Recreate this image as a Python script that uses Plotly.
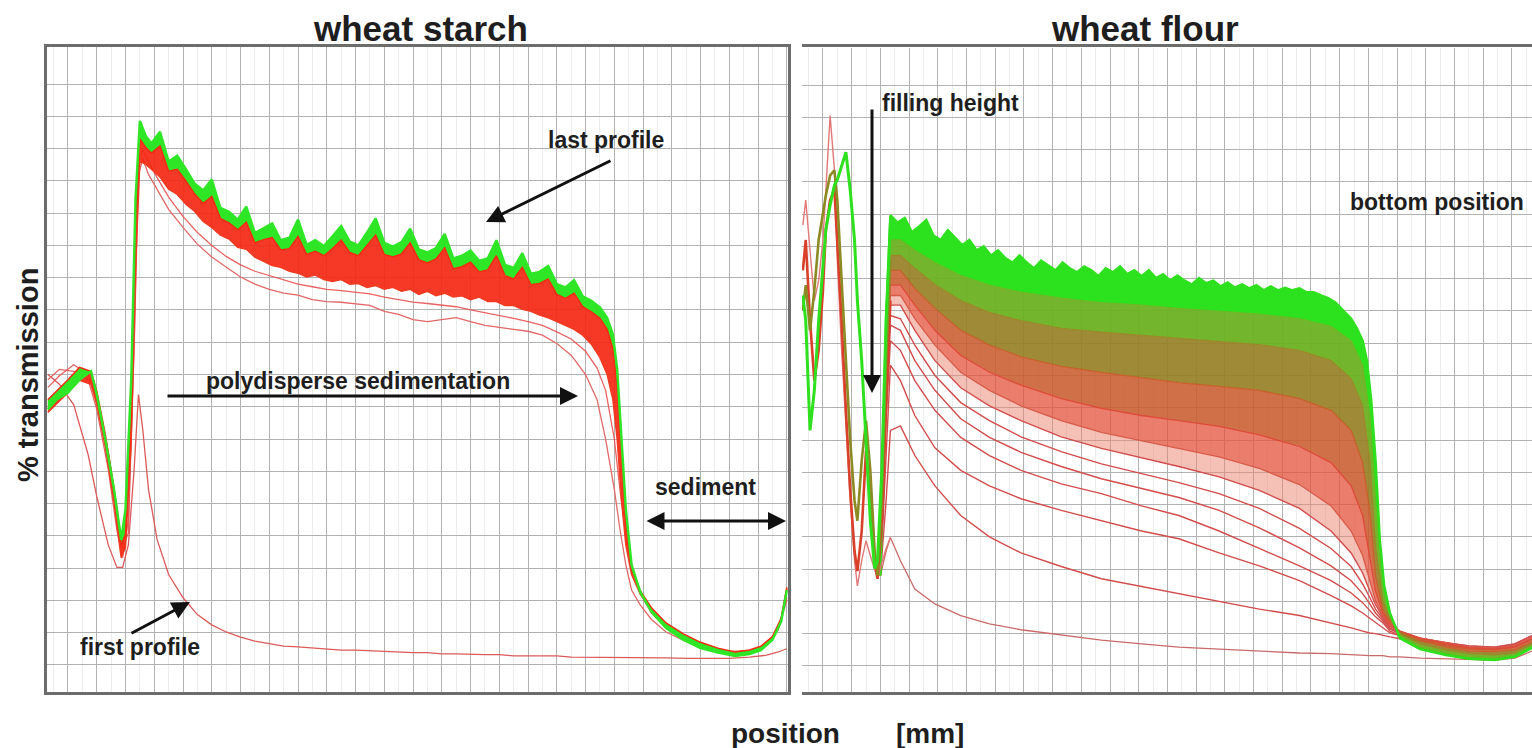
import plotly.graph_objects as go

# ================= wheat starch (left panel) =================
# position [mm] and % transmission
ws_x_band = [105.3, 105.6, 106.0, 106.4, 106.8, 107.0, 107.3, 107.6, 107.85, 108.0, 108.2, 108.35, 108.5, 108.7,
             108.9, 109.2, 109.5, 109.8, 110.1, 110.4, 110.7, 111.0, 111.3, 111.6, 111.9, 112.2, 112.5, 112.8,
             113.1, 113.4, 113.7, 114.0, 114.3, 114.6, 114.9, 115.2, 115.5, 115.8, 116.1, 116.4, 116.7, 117.0,
             117.3, 117.6, 117.9, 118.2, 118.5, 118.8, 119.1, 119.4, 119.7, 120.0, 120.3, 120.6, 120.9, 121.2,
             121.5, 121.8, 122.1, 122.4, 122.7, 123.0, 123.3, 123.6, 123.9, 124.2, 124.5,
             124.75, 124.95, 125.1, 125.25, 125.4, 125.6, 125.9, 126.3, 126.8, 127.4, 128.0, 128.6, 129.2,
             129.7, 130.1, 130.5, 130.8, 131.0]
ws_last = [39.6, 41.1, 42.2, 44.2, 45.5, 41.9, 34.9, 27.2, 19.4, 24.1, 44.2, 72.2, 84.3, 82.0,
           80.8, 82.6, 78.0, 78.9, 76.8, 74.6, 73.5, 75.2, 70.8, 70.2, 69.0, 71.0, 66.9, 67.6,
           68.4, 65.8, 66.2, 69.0, 65.1, 65.8, 64.9, 66.4, 68.0, 65.6, 65.0, 67.0, 69.2, 65.4,
           64.8, 65.5, 67.6, 64.4, 63.9, 64.6, 66.8, 63.0, 63.4, 64.2, 62.6, 63.0, 65.8, 62.0,
           61.5, 63.8, 60.6, 60.9, 61.8, 59.0, 58.5, 59.6, 57.1, 56.4, 55.4,
           53.8, 51.2, 45.8, 34.9, 24.1, 15.5, 11.3, 8.2, 5.7, 3.9, 2.6, 1.9, 1.4,
           1.7, 2.3, 3.9, 6.7, 11.6]
ws_red_top = [41.1, 42.4, 44.2, 46.1, 45.5, 42.4, 35.7, 27.2, 18.6, 20.2, 38.0, 67.5, 81.5, 80.2,
              79.3, 80.4, 76.5, 76.8, 75.0, 73.0, 71.5, 72.6, 69.2, 68.5, 67.4, 68.6, 65.4, 65.9,
              66.2, 64.3, 64.5, 66.4, 63.6, 64.1, 63.4, 64.5, 65.8, 63.9, 63.4, 65.0, 66.6, 63.6,
              63.2, 63.7, 65.4, 62.8, 62.3, 62.9, 64.6, 61.4, 61.7, 62.4, 60.9, 61.2, 63.4, 60.3,
              59.8, 61.6, 58.9, 59.1, 59.8, 57.4, 56.8, 57.6, 55.5, 54.7, 53.7,
              52.0, 49.0, 43.0, 32.5, 22.5, 15.0, 11.5, 8.8, 6.5, 4.8, 3.5, 2.6, 2.0,
              2.3, 2.9, 4.4, 7.2, 12.0]
ws_red_low = [39.1, 40.4, 42.2, 44.1, 43.5, 40.4, 33.7, 25.2, 16.6, 18.2, 35.0, 62.0, 78.0, 77.6,
              76.8, 75.6, 73.7, 72.9, 71.4, 70.3, 68.7, 67.8, 66.6, 66.0, 64.7, 64.4, 63.2, 62.5,
              61.9, 61.6, 61.0, 60.7, 60.1, 60.4, 59.7, 59.4, 59.7, 59.0, 59.1, 58.5, 58.8, 58.2,
              58.5, 57.9, 58.2, 57.4, 57.9, 57.2, 57.6, 57.0, 57.2, 56.6, 57.0, 56.3, 56.3, 55.7,
              55.7, 55.1, 54.8, 54.2, 53.8, 53.2, 52.6, 52.0, 51.1, 49.7, 47.6,
              45.0, 41.1, 34.9, 25.6, 18.6, 14.0, 11.0, 8.5, 6.2, 4.5, 3.2, 2.4, 1.8,
              2.1, 2.7, 4.2, 7.0, 11.8]

ws_x_thin = [105.3, 105.7, 106.2, 106.7, 107.0, 107.4, 107.7, 107.9, 108.1, 108.3, 108.45, 108.6, 108.8,
             109.1, 109.5, 110.0, 110.5, 111.0, 111.5, 112.0, 112.5, 113.0, 113.5, 114.0, 114.5, 115.0,
             115.5, 116.0, 116.5, 117.0, 117.5, 118.0, 118.5, 119.0, 119.5, 120.0, 120.5, 121.0, 121.5,
             122.0, 122.5, 123.0, 123.5, 124.0, 124.4, 124.7, 125.0, 125.2, 125.4, 125.6, 125.9, 126.3,
             126.8, 127.5, 128.2, 129.0, 129.7, 130.3, 130.7, 131.0]
ws_first = [45.0, 43.5, 40.3, 32.6, 26.1, 18.6, 15.1, 15.1, 18.6, 30.3, 41.9, 36.5, 27.2,
            19.4, 14.0, 10.4, 7.8, 6.2, 5.1, 4.3, 3.7, 3.3, 2.9, 2.8, 2.6, 2.5,
            2.3, 2.3, 2.2, 2.0, 2.0, 1.9, 1.9, 1.7, 1.7, 1.6, 1.6, 1.6, 1.4,
            1.4, 1.4, 1.4, 1.2, 1.2, 1.2, 1.2, 1.2, 1.2, 1.2, 1.1, 1.1, 1.1,
            1.1, 1.0, 1.0, 1.0, 1.2, 1.5, 2.0, 2.5]
ws_second = [44.2, 45.8, 45.5, 44.2, 39.6, 30.3, 20.9, 16.6, 22.5, 48.9, 76.0, 78.4, 76.0,
             73.7, 70.6, 67.8, 65.2, 63.2, 61.6, 60.1, 59.0, 58.2, 57.6, 57.3, 56.6, 56.3,
             56.2, 55.9, 55.7, 54.8, 54.3, 53.5, 53.2, 53.5, 53.8, 53.2, 52.6, 52.3, 52.0,
             51.7, 51.1, 49.8, 48.0, 45.0, 41.1, 34.9, 27.2, 20.9, 15.5, 11.6, 9.3, 7.0,
             5.1, 3.6, 2.6, 2.0, 2.0, 3.1, 5.4, 10.1]
ws_third = [43.0, 44.8, 46.5, 45.0, 41.0, 33.0, 24.5, 18.0, 20.5, 50.0, 78.0, 79.8, 78.0,
            75.5, 72.5, 69.5, 67.0, 65.0, 63.3, 62.0, 61.0, 60.3, 59.6, 59.0, 58.6, 58.2,
            58.0, 57.8, 57.5, 57.0, 56.6, 56.2, 56.0, 55.8, 55.5, 55.0, 54.6, 54.2, 53.7,
            53.2, 52.6, 51.6, 50.5, 48.6, 46.0, 42.5, 35.0, 27.0, 20.0, 15.0, 11.0, 8.0,
            5.8, 3.9, 2.8, 2.1, 2.2, 3.2, 5.5, 10.5]

# ================= wheat flour (right panel) =================
wf_x_men = [105.3, 105.4, 105.55, 105.7, 105.85, 106.0, 106.1, 106.25, 106.4, 106.5, 106.65, 106.8,
            106.95, 107.1, 107.2, 107.35, 107.5, 107.65, 107.8, 107.9, 108.05, 108.2, 108.35]
wf_men_pink = [68.3, 72.2, 64.4, 56.6, 59.7, 66.0, 73.7, 85.3, 76.8, 62.8, 48.9, 36.5,
               25.6, 16.3, 12.4, 16.3, 19.4, 17.1, 14.7, 13.5, 16.0, 18.2, 19.9]
wf_men_red = [61.3, 66.0, 53.5, 44.2, 48.9, 58.2, 67.5, 72.2, 73.7, 66.0, 53.5, 39.6,
              27.2, 17.8, 14.7, 20.9, 33.4, 25.6, 16.3, 13.5, 22.5, 41.1, 56.6]
wf_men_olive = [55.1, 59.0, 52.0, 58.2, 66.0, 70.6, 72.9, 76.0, 76.8, 72.2, 59.7, 47.3,
                34.9, 25.6, 22.5, 31.8, 38.0, 30.3, 17.8, 14.0, 25.6, 47.3, 62.8]
wf_men_green = [57.4, 53.5, 36.5, 42.7, 53.5, 62.8, 67.5, 71.4, 74.5, 75.3, 77.6, 79.6,
                73.7, 66.0, 56.6, 47.3, 34.9, 22.5, 15.1, 16.3, 30.3, 53.5, 68.7]

wf_x = [108.0, 108.2, 108.35, 108.7, 109.2, 109.9, 110.8, 111.8, 112.9, 114.3, 115.7, 117.1, 118.4,
        119.8, 121.2, 122.6, 123.7, 124.4, 124.8, 125.05, 125.25, 125.5, 125.75, 126.1, 126.8,
        127.7, 128.5, 129.4, 130.1, 130.7]
wf_p01 = [14.0, 17.8, 19.9, 16.3, 11.9, 9.6, 7.8, 6.5, 5.6, 4.8, 4.0, 3.4, 2.9, 2.6, 2.3, 2.0, 1.9,
          1.7, 1.7, 1.6, 1.6, 1.6, 1.4, 1.4, 1.2, 1.1, 0.9, 0.9, 1.2, 2.3]
wf_p02 = [14.0, 25.6, 36.5, 37.2, 32.6, 27.9, 23.3, 20.0, 17.5, 15.4, 13.5, 12.3, 11.2, 9.9, 8.8, 7.8,
          6.7, 5.9, 5.4, 5.1, 5.0, 4.8, 4.5, 4.2, 3.9, 3.1, 2.6, 2.5, 2.9, 4.2]
wf_p03 = [14.0, 33.4, 46.6, 44.2, 38.8, 33.8, 30.3, 27.9, 25.9, 24.1, 22.5, 20.9, 19.7, 17.5, 15.5, 13.2,
          10.9, 9.3, 8.2, 7.4, 6.7, 5.9, 5.1, 4.7, 4.0, 3.3, 2.8, 2.6, 3.1, 4.3]
wf_p04 = [14.0, 38.0, 50.4, 48.9, 44.2, 39.6, 35.4, 32.6, 30.3, 28.2, 26.7, 24.8, 23.3, 20.9, 18.2, 15.5,
          13.2, 11.3, 9.8, 8.5, 7.6, 6.7, 5.4, 4.8, 4.2, 3.4, 2.9, 2.8, 3.3, 4.5]
wf_p05 = [14.0, 41.1, 52.8, 52.0, 47.3, 42.7, 38.3, 35.4, 33.1, 30.9, 29.0, 27.5, 26.1, 24.1, 21.4, 18.3,
          15.5, 13.2, 11.2, 9.6, 8.2, 7.0, 5.7, 5.0, 4.2, 3.4, 2.9, 2.8, 3.3, 4.5]
wf_p06 = [14.0, 42.7, 54.3, 53.8, 49.7, 45.0, 40.8, 38.0, 35.5, 33.2, 31.3, 29.8, 28.4, 26.7, 24.4, 21.3,
          18.2, 15.4, 12.7, 10.6, 8.8, 7.3, 5.9, 5.1, 4.3, 3.6, 3.1, 2.9, 3.4, 4.7]
wf_p07 = [14.0, 44.2, 55.9, 55.9, 52.0, 47.3, 43.1, 40.3, 38.0, 35.5, 33.7, 32.3, 30.9, 29.3, 27.2, 24.4,
          20.9, 17.5, 14.4, 11.6, 9.5, 7.6, 6.1, 5.3, 4.3, 3.6, 3.1, 2.9, 3.4, 4.7]
wf_p08 = [14.0, 45.8, 57.4, 57.4, 53.8, 49.7, 45.5, 42.7, 40.3, 38.0, 36.2, 34.9, 33.7, 32.4, 30.6, 28.1,
          24.8, 20.9, 17.1, 13.2, 10.1, 7.9, 6.2, 5.4, 4.3, 3.6, 2.9, 2.8, 3.1, 4.3]
wf_p09 = [14.0, 47.3, 59.0, 59.0, 55.9, 52.0, 48.1, 45.5, 43.5, 41.4, 39.9, 38.8, 38.0, 37.1, 35.8, 34.0,
          31.5, 27.9, 23.3, 17.1, 11.6, 8.2, 6.5, 5.4, 4.3, 3.4, 2.8, 2.6, 2.9, 4.2]
wf_p10 = [14.0, 48.9, 61.3, 61.3, 58.5, 55.4, 52.0, 49.7, 47.9, 46.4, 45.5, 44.7, 43.9, 43.3, 42.7, 41.4,
          39.6, 36.5, 31.5, 24.1, 14.0, 8.8, 7.0, 5.3, 3.9, 2.9, 2.3, 2.2, 2.5, 3.7]
wf_p11 = [14.0, 50.4, 63.6, 63.6, 61.6, 59.1, 56.6, 54.8, 53.5, 52.3, 51.7, 51.2, 50.7, 50.3, 49.8, 48.9,
          47.3, 44.5, 40.3, 31.8, 18.6, 10.1, 7.4, 5.0, 3.4, 2.5, 1.9, 1.7, 2.0, 3.4]
wf_p12 = [14.0, 52.0, 66.0, 66.0, 64.4, 62.5, 60.5, 59.0, 57.9, 57.0, 56.3, 55.9, 55.4, 54.9, 54.5, 53.8,
          52.6, 50.4, 46.6, 38.8, 25.6, 12.4, 7.9, 4.7, 2.9, 2.0, 1.4, 1.2, 1.7, 3.1]
# last profile (green) read on a finer position grid
wf_x_last = [108.0, 108.2, 108.35, 108.6, 108.85, 109.1, 109.35, 109.6, 109.85, 110.1, 110.35, 110.6,
             110.85, 111.1, 111.35, 111.6, 111.85, 112.1, 112.35, 112.6, 112.85, 113.1, 113.35, 113.6,
             113.85, 114.1, 114.35, 114.6, 114.85, 115.1, 115.35, 115.6, 115.85, 116.1, 116.35, 116.6,
             116.85, 117.1, 117.35, 117.6, 117.85, 118.1, 118.35, 118.6, 118.85, 119.1, 119.35, 119.6,
             119.85, 120.1, 120.35, 120.6, 120.85, 121.1, 121.35, 121.6, 121.85, 122.1, 122.35, 122.6,
             122.85, 123.1, 123.35, 123.6, 123.85, 124.1, 124.4, 124.6, 124.8, 124.95, 125.1, 125.25,
             125.4, 125.55, 125.75, 126.1, 126.8, 127.7, 128.5, 129.4, 130.1, 130.7]
wf_last = [14.0, 53.5, 69.8, 68.7, 69.4, 67.2, 68.1, 69.1, 66.7, 66.0, 67.5, 66.3,
           65.2, 66.0, 64.4, 65.0, 63.6, 64.4, 63.2, 62.5, 63.6, 62.5, 61.6, 62.8,
           62.0, 61.3, 62.5, 61.6, 61.0, 61.9, 61.3, 60.4, 61.6, 61.0, 61.9, 60.7,
           61.3, 60.4, 61.3, 60.1, 60.7, 59.7, 60.5, 59.7, 59.1, 60.1, 59.3, 59.7,
           58.8, 59.4, 58.6, 59.1, 58.5, 59.0, 58.2, 58.8, 58.2, 58.6, 58.2, 58.5,
           57.9, 57.9, 57.4, 57.0, 56.3, 55.1, 53.8, 52.3, 50.4, 47.3, 41.1, 31.8,
           19.4, 12.4, 8.2, 4.3, 2.6, 1.7, 1.1, 0.9, 1.4, 2.8]

for arr in (ws_last, ws_red_top, ws_red_low):
    assert len(arr) == len(ws_x_band)
for arr in (ws_first, ws_second, ws_third):
    assert len(arr) == len(ws_x_thin)
for arr in (wf_men_pink, wf_men_red, wf_men_olive, wf_men_green):
    assert len(arr) == len(wf_x_men)
assert len(wf_last) == len(wf_x_last)

fig = go.Figure()

def add(x, y, color, width, axis, fill=None, fillcolor=None, opacity=1.0):
    xa, ya = ("x", "y") if axis == 1 else ("x2", "y2")
    fig.add_trace(go.Scatter(x=x, y=y, mode="lines", xaxis=xa, yaxis=ya,
                             line=dict(color=color, width=width), fill=fill,
                             fillcolor=fillcolor, opacity=opacity,
                             hoverinfo="skip", showlegend=False))

# ---- left panel traces ----
add(ws_x_thin, ws_first, "#dc5a5a", 1.3, 1)
add(ws_x_thin, ws_second, "#e26868", 1.3, 1)
add(ws_x_thin, ws_third, "#e84848", 1.3, 1, opacity=0.85)
add(ws_x_band, ws_red_low, "#f03a22", 1.5, 1)
add(ws_x_band, ws_red_top, "#f52a12", 1.5, 1, fill="tonexty", fillcolor="rgba(244,40,20,0.92)")
add(ws_x_band, ws_last, "#2ee626", 2.5, 1, fill="tonexty", fillcolor="rgba(46,230,38,1)")

# ---- right panel traces ----
add(wf_x, wf_p01, "#c86a6a", 1.3, 2)
for prof in (wf_p02, wf_p03, wf_p04, wf_p05, wf_p06, wf_p07):
    add(wf_x, prof, "#d24c4c", 1.4, 2)
add(wf_x, wf_p08, "#d85a48", 1.3, 2, fill="tonexty", fillcolor="rgba(236,130,110,0.5)")
add(wf_x, wf_p09, "#de4a38", 1.3, 2, fill="tonexty", fillcolor="rgba(228,82,60,0.75)")
add(wf_x, wf_p10, "#c8602a", 1.3, 2, fill="tonexty", fillcolor="rgba(202,92,48,0.88)")
add(wf_x, wf_p11, "#9a8a28", 1.3, 2, fill="tonexty", fillcolor="rgba(150,128,38,0.92)")
add(wf_x, wf_p12, "#6cb824", 1.3, 2, fill="tonexty", fillcolor="rgba(108,178,34,0.95)")
add(wf_x_last, wf_last, "#2ee01e", 2.5, 2, fill="tonexty", fillcolor="rgba(44,226,30,1)")

add(wf_x_men, wf_men_pink, "#e07878", 1.4, 2)
add(wf_x_men, wf_men_red, "#d8402a", 2.6, 2)
add(wf_x_men, wf_men_olive, "#8c8a22", 2.6, 2)
add(wf_x_men, wf_men_green, "#2ee01e", 3.0, 2)

W, H = 1532, 748
grid_major = "#b2b2b2"
grid_minor = "#ededed"
ytick_vals = [0, 5, 10, 15, 20, 25, 30, 35, 40, 45, 50, 55, 60, 65, 70, 75, 80, 85, 90]

def xax(domain, rng):
    return dict(domain=domain, range=rng, showticklabels=False, ticks="", zeroline=False,
                tick0=106, dtick=1, showgrid=True, gridcolor=grid_major, gridwidth=1.2,
                minor=dict(tick0=106, dtick=0.5, showgrid=True, gridcolor=grid_minor, gridwidth=1),
                showline=True, mirror=True, linecolor="#6c6c6c", linewidth=2.5)

def yax(domain, showline):
    return dict(domain=domain, range=[-4.2, 95.75], showticklabels=False, ticks="", zeroline=False,
                tickmode="array", tickvals=ytick_vals, showgrid=True, gridcolor=grid_major,
                gridwidth=1.2, showline=showline, mirror=showline, linecolor="#6c6c6c", linewidth=2.5)

fig.update_layout(
    width=W, height=H, autosize=False,
    margin=dict(l=0, r=0, t=0, b=0),
    paper_bgcolor="white", plot_bgcolor="white",
    xaxis=xax([47 / W, 788 / W], [105.27, 131.04]),
    yaxis=yax([1 - 692 / H, 1 - 47 / H], True),
    xaxis2=xax([802 / W, 1.0], [105.27, 130.70]),
    yaxis2=yax([1 - 693 / H, 1 - 48 / H], False),
    hovermode=False,
    font=dict(family="Liberation Sans, Arial, sans-serif", color="#1e1e1e"),
)

def label(text, px, py, size, angle=0, xanchor="center"):
    fig.add_annotation(text="<b>%s</b>" % text, x=px / W, y=1 - py / H, xref="paper", yref="paper",
                       showarrow=False, font=dict(size=size, color="#1e1e1e"),
                       textangle=angle, xanchor=xanchor, yanchor="middle")

def arrow(tail, head, both=False):
    fig.add_annotation(x=head[0] / W, y=1 - head[1] / H, xref="paper", yref="paper",
                       ax=tail[0] - head[0], ay=tail[1] - head[1], text="", showarrow=True,
                       arrowhead=2, arrowsize=1.2, arrowwidth=3, arrowcolor="#111111",
                       arrowside="end+start" if both else "end")

label("wheat starch", 420, 28, 35)
label("wheat flour", 1145, 28, 35)
label("% transmission", 28, 375, 29, angle=-90)
label("position", 786, 733, 28)
label("[mm]", 930, 733, 28)
label("last profile", 606, 140, 23)
label("polydisperse sedimentation", 358, 381, 23)
label("sediment", 705, 487, 23)
label("first profile", 140, 647, 23)
label("filling height", 950, 103, 23)
label("bottom position", 1437, 202, 23)

arrow((612, 160), (486, 222))
arrow((166, 396), (578, 396))
arrow((645, 521), (786, 521), both=True)
arrow((130, 634), (190, 602))
arrow((872, 108), (872, 393))

fig.write_html("out.html", config={"displayModeBar": False},
               post_script="document.body.style.margin='0';document.body.style.overflow='hidden';")
